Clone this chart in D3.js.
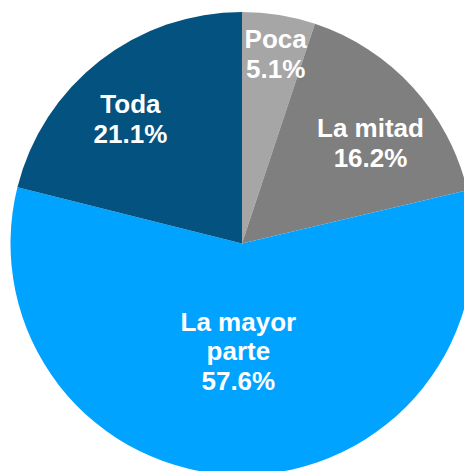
<!DOCTYPE html>
<html>
<head>
<meta charset="utf-8">
<script src="https://cdn.jsdelivr.net/npm/d3@7"></script>
<style>
  html, body { margin: 0; padding: 0; background: #ffffff; }
  #chart { width: 464px; height: 471px; overflow: hidden; }
</style>
</head>
<body>
<div id="chart"></div>
<script>
// Data (clockwise from 12 o'clock)
const categories = ["Poca", "La mitad", "La mayor parte", "Toda"];
const shares = [5.1, 16.2, 57.6, 21.1];
const labelLines = [["Poca"], ["La mitad"], ["La mayor", "parte"], ["Toda"]];

// Styling / layout
const colors = ["#a6a6a6", "#7f7f7f", "#00a3ff", "#03527f"];
const labelRadius = [0.83, 0.70, 0.466, 0.72]; // fraction of pie radius
const labelNudge = [[3, 0], [9, 9], [-3, 0], [-9, 7]];

const width = 464, height = 471;
const cx = 242, cy = 243.5, radius = 231.5;
const fontSize = 26, lineHeight = 29.5;

const svg = d3.select("#chart")
    .append("svg")
    .attr("width", width)
    .attr("height", height)
    .style("font-family", "'Liberation Sans', Arial, sans-serif");

const g = svg.append("g").attr("transform", `translate(${cx},${cy})`);

const pie = d3.pie().sort(null).value(d => d);
const arcs = pie(shares);

const arc = d3.arc().innerRadius(0).outerRadius(radius);

g.selectAll("path.slice")
    .data(arcs)
    .enter()
    .append("path")
    .attr("class", "slice")
    .attr("d", arc)
    .attr("fill", (d, i) => colors[i]);

// Labels
arcs.forEach((d, i) => {
    const r = radius * labelRadius[i];
    const [x0, y0] = d3.arc().innerRadius(r).outerRadius(r).centroid(d);
    const x = x0 + labelNudge[i][0];
    const y = y0 + labelNudge[i][1];
    const lines = labelLines[i].concat([d3.format(".1f")(shares[i]) + "%"]);
    const text = g.append("text")
        .attr("text-anchor", "middle")
        .attr("font-size", fontSize + "px")
        .attr("font-weight", "bold")
        .attr("fill", "#ffffff");
    lines.forEach((ln, j) => {
        text.append("tspan")
            .attr("x", x)
            .attr("y", y + (j - (lines.length - 1) / 2) * lineHeight)
            .attr("dy", "0.35em")
            .text(ln);
    });
});
</script>
</body>
</html>
